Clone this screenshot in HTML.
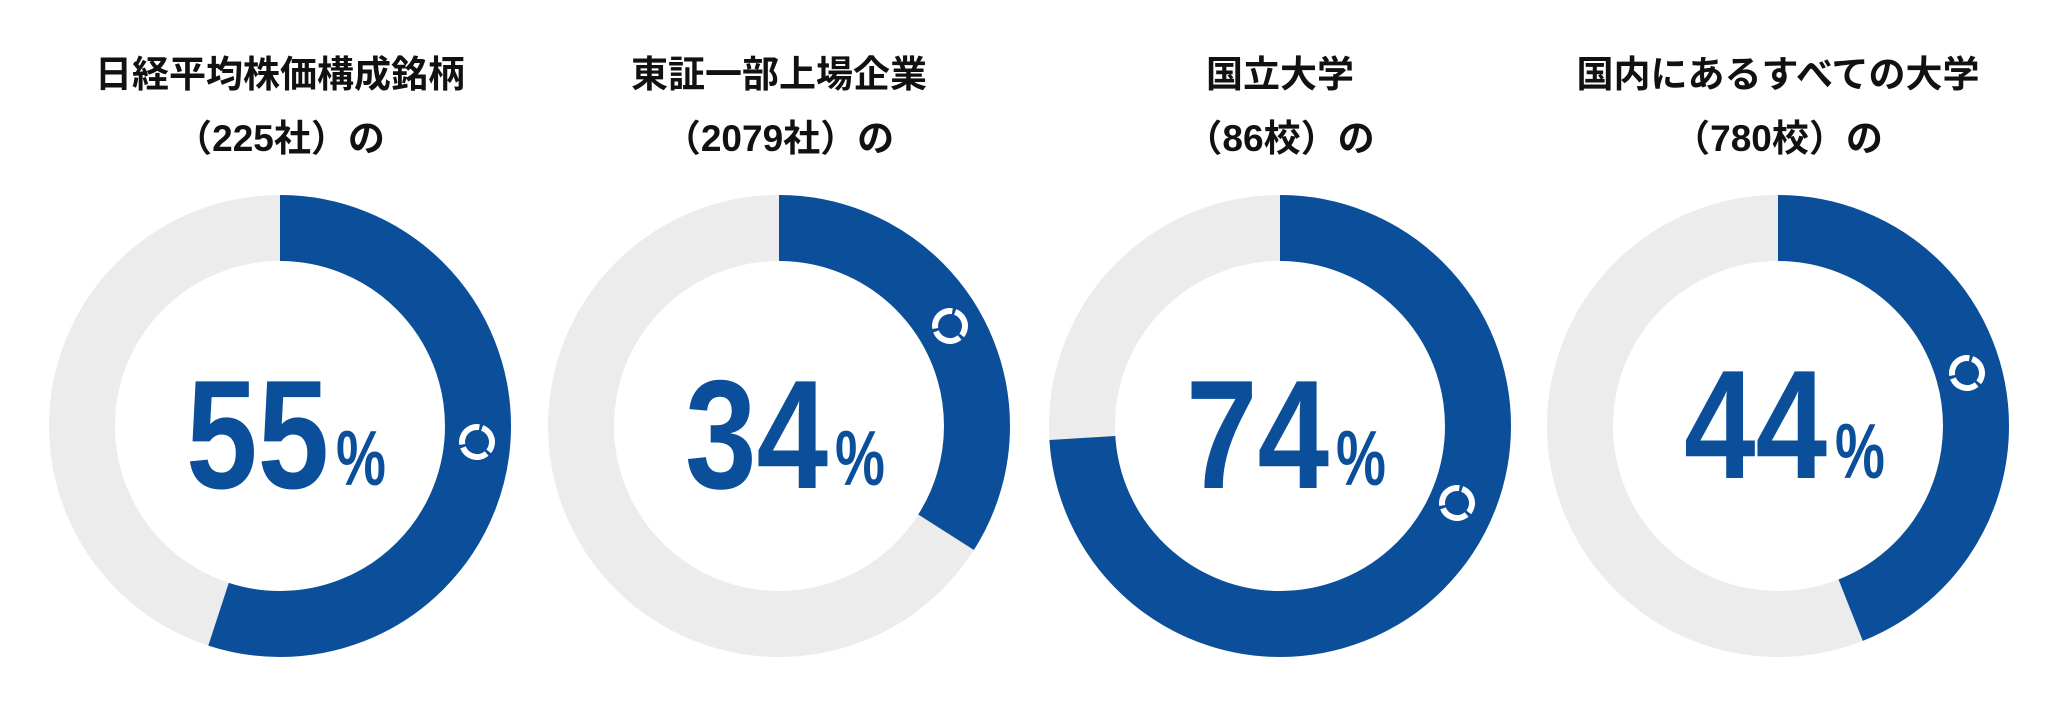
<!DOCTYPE html>
<html><head><meta charset="utf-8"><style>
html,body{margin:0;padding:0;background:#fff;}
body{width:2058px;height:707px;overflow:hidden;position:relative;}
svg{position:absolute;left:0;top:0;}
.t{font-family:"Liberation Sans","Noto Sans CJK JP",sans-serif;font-weight:bold;font-size:37px;fill:#111;}
.n{font-family:"Liberation Sans",sans-serif;font-weight:bold;fill:#0b4f9a;}
</style></head><body>
<svg width="2058" height="707" viewBox="0 0 2058 707">
<defs>
<g id="ic"><circle r="15" fill="none" stroke="#fff" stroke-width="6" stroke-dasharray="28.4 3" transform="rotate(-70)"/></g>
</defs>
<g transform="translate(280,426)">
<circle r="198" fill="none" stroke="#ececec" stroke-width="66"/>
<circle r="198" fill="none" stroke="#0b4f9a" stroke-width="66" stroke-dasharray="684.3 2000" transform="rotate(-90)"/>
</g>
<use href="#ic" x="477" y="442"/>
<text class="t" x="280" y="87" text-anchor="middle">日経平均株価構成銘柄</text>
<text class="t" x="280" y="151" text-anchor="middle">（225社）の</text>
<text class="n" font-size="155" transform="translate(186,488) scale(0.83,1)">55</text>
<text class="n" font-size="78" transform="translate(336,485) scale(0.72,1)">%</text>

<g transform="translate(779,426)">
<circle r="198" fill="none" stroke="#ececec" stroke-width="66"/>
<circle r="198" fill="none" stroke="#0b4f9a" stroke-width="66" stroke-dasharray="423 2000" transform="rotate(-90)"/>
</g>
<use href="#ic" x="950" y="326"/>
<text class="t" x="779" y="87" text-anchor="middle">東証一部上場企業</text>
<text class="t" x="779" y="151" text-anchor="middle">（2079社）の</text>
<text class="n" font-size="155" transform="translate(685,488) scale(0.83,1)">34</text>
<text class="n" font-size="78" transform="translate(835,485) scale(0.72,1)">%</text>

<g transform="translate(1280,426)">
<circle r="198" fill="none" stroke="#ececec" stroke-width="66"/>
<circle r="198" fill="none" stroke="#0b4f9a" stroke-width="66" stroke-dasharray="920.6 2000" transform="rotate(-90)"/>
</g>
<use href="#ic" x="1457" y="503"/>
<text class="t" x="1280" y="87" text-anchor="middle">国立大学</text>
<text class="t" x="1280" y="151" text-anchor="middle">（86校）の</text>
<text class="n" font-size="155" transform="translate(1186,488) scale(0.83,1)">74</text>
<text class="n" font-size="78" transform="translate(1336,485) scale(0.72,1)">%</text>

<g transform="translate(1778,426)">
<circle r="198" fill="none" stroke="#ececec" stroke-width="66"/>
<circle r="198" fill="none" stroke="#0b4f9a" stroke-width="66" stroke-dasharray="547.4 2000" transform="rotate(-90)"/>
</g>
<use href="#ic" x="1967" y="373"/>
<text class="t" x="1778" y="87" text-anchor="middle">国内にあるすべての大学</text>
<text class="t" x="1778" y="151" text-anchor="middle">（780校）の</text>
<text class="n" font-size="155" transform="translate(1684,478) scale(0.83,1)">44</text>
<text class="n" font-size="78" transform="translate(1835,478) scale(0.72,1)">%</text>
</svg>
</body></html>
